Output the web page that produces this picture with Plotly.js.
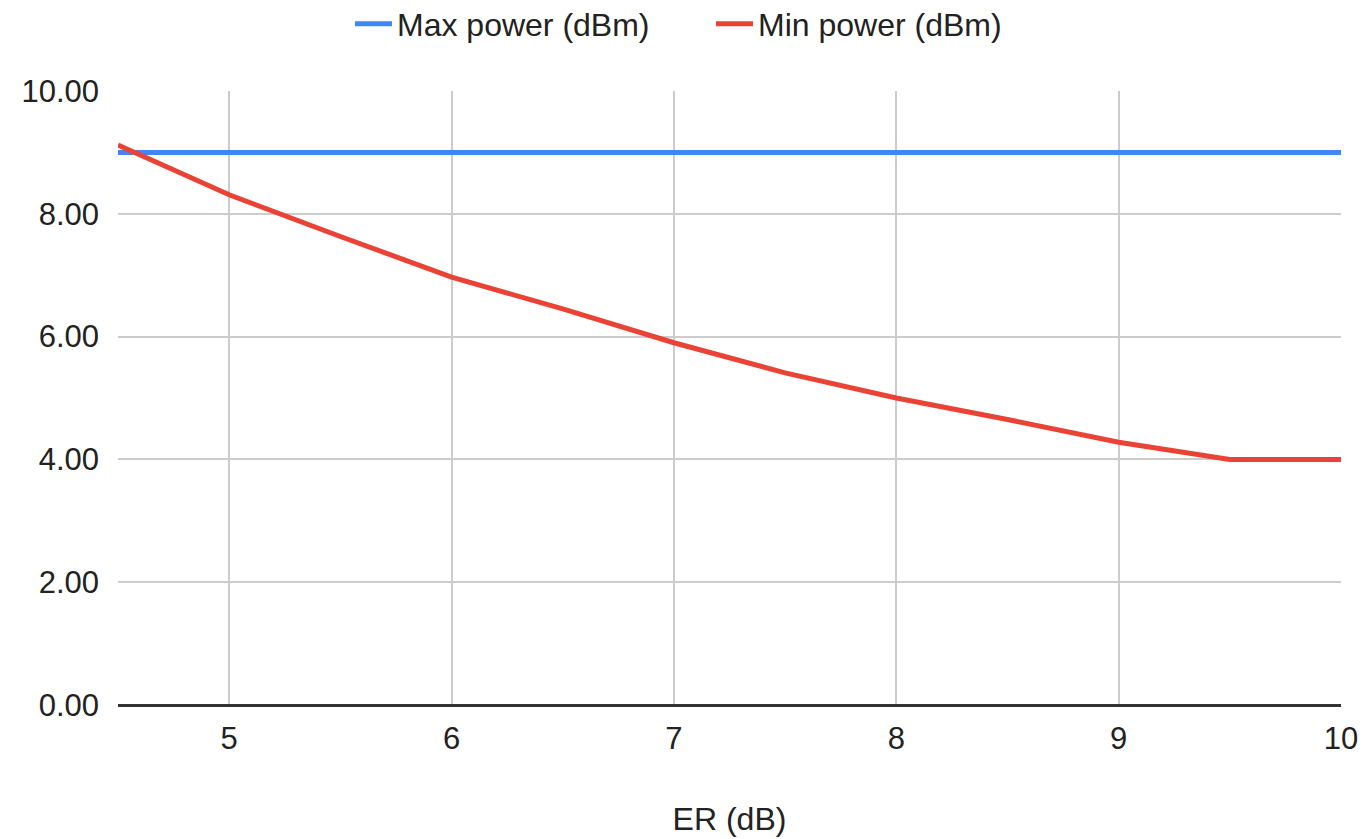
<!DOCTYPE html>
<html>
<head>
<meta charset="utf-8">
<script src="https://cdn.plot.ly/plotly-3.0.1.min.js"></script>
<style>
html,body{margin:0;padding:0;background:#fff;}
#chart{width:1372px;height:839px;}
</style>
</head>
<body>
<div id="chart"></div>
<script>
const erValues = [4.5, 5, 5.5, 6, 6.5, 7, 7.5, 8, 8.5, 9, 9.5, 10];
const maxPower = [9, 9, 9, 9, 9, 9, 9, 9, 9, 9, 9, 9];
const minPower = [9.12, 8.31, 7.63, 6.97, 6.45, 5.90, 5.41, 5.00, 4.65, 4.28, 4.00, 4.00];
const seriesNames = ["Max power (dBm)", "Min power (dBm)"];
const xTitle = "ER (dB)";

const FONT = "Liberation Sans, Arial, Helvetica, sans-serif";
const TXT = "#222";

const traces = [
  {x: erValues, y: maxPower, name: seriesNames[0], mode: "lines",
   line: {color: "#4285F4", width: 5}},
  {x: erValues, y: minPower, name: seriesNames[1], mode: "lines",
   line: {color: "#EA4335", width: 5}}
];

const layout = {
  width: 1372, height: 839,
  margin: {l: 118, r: 31, t: 91, b: 134},
  paper_bgcolor: "#fff", plot_bgcolor: "#fff",
  font: {family: FONT, size: 31, color: TXT},
  showlegend: true,
  legend: {orientation: "h", xref: "container", yref: "container",
           x: 350 / 1372, xanchor: "left", y: 1 - 24 / 839, yanchor: "middle",
           entrywidth: 309, entrywidthmode: "pixels",
           font: {family: FONT, size: 32, color: TXT}, itemwidth: 37},
  xaxis: {range: [4.5, 10], tick0: 5, dtick: 1, showgrid: true,
          gridcolor: "#cccccc", gridwidth: 2, zeroline: false,
          showline: false, ticks: "", ticklabelstandoff: 12,
          tickfont: {family: FONT, size: 31, color: TXT},
          title: {text: xTitle, standoff: 52, font: {family: FONT, size: 32, color: TXT}}},
  yaxis: {range: [0, 10], dtick: 2, tickformat: ".2f", showgrid: true,
          gridcolor: "#cccccc", gridwidth: 2, zeroline: true,
          zerolinecolor: "#333", zerolinewidth: 3, showline: false,
          ticks: "", ticklabelstandoff: 18,
          tickfont: {family: FONT, size: 31, color: TXT}}
};

Plotly.newPlot("chart", traces, layout, {displayModeBar: false, staticPlot: true});
</script>
</body>
</html>
